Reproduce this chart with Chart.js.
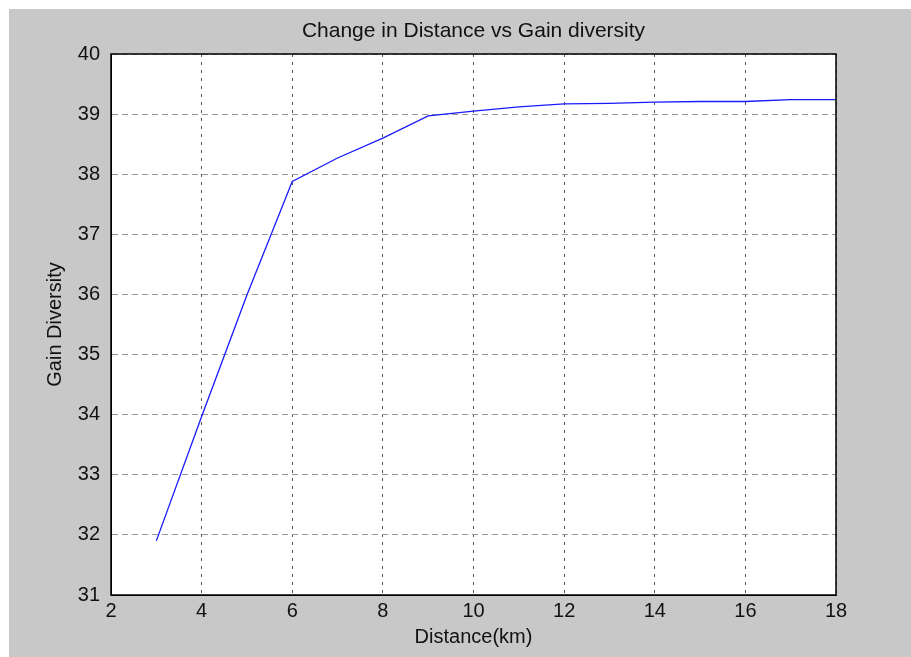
<!DOCTYPE html>
<html>
<head>
<meta charset="utf-8">
<script src="https://cdn.jsdelivr.net/npm/chart.js@4.4.1/dist/chart.umd.min.js"></script>
<style>
  html, body { margin: 0; padding: 0; background: #ffffff; }
  #wrap { position: absolute; left: 0; top: 0; width: 911px; height: 657px; }
</style>
</head>
<body>
<div id="wrap"><canvas id="c" width="911" height="657"></canvas></div>
<script>
const distanceKm = [3, 4, 5, 6, 7, 8, 9, 10, 11, 12, 13, 14, 15, 16, 17, 18];
const gainDiversity = [31.9, 33.97, 35.99, 37.88, 38.27, 38.6, 38.97, 39.05, 39.12, 39.17, 39.18, 39.2, 39.21, 39.21, 39.24, 39.24];
const chartTitle = 'Change in Distance vs Gain diversity';
const xTitle = 'Distance(km)';
const yTitle = 'Gain Diversity';
const xMin = 2, xMax = 18, xStep = 2;
const yMin = 31, yMax = 40, yStep = 1;

const points = distanceKm.map((d, i) => ({ x: d, y: gainDiversity[i] }));
const FONT = 'Liberation Sans';

const bgPlugin = {
  id: 'bgPlugin',
  beforeDraw(chart) {
    const ctx = chart.ctx;
    const a = chart.chartArea;
    ctx.save();
    ctx.fillStyle = '#ffffff';
    ctx.fillRect(0, 0, chart.width, chart.height);
    ctx.fillStyle = '#c8c8c8';
    ctx.fillRect(9, 9, chart.width - 9, chart.height - 9);
    ctx.fillStyle = '#ffffff';
    ctx.fillRect(a.left, a.top, a.right - a.left, a.bottom - a.top);
    ctx.restore();
  },
  afterDraw(chart) {
    const ctx = chart.ctx;
    const a = chart.chartArea;
    ctx.save();
    ctx.strokeStyle = '#000000';
    ctx.lineWidth = 1.5;
    ctx.strokeRect(a.left, a.top, a.right - a.left, a.bottom - a.top);
    // title centred over the plot area
    ctx.fillStyle = '#111111';
    ctx.font = '21px "' + FONT + '"';
    ctx.textAlign = 'center';
    ctx.textBaseline = 'middle';
    ctx.fillText(chartTitle, (a.left + a.right) / 2, 31);
    ctx.restore();
  }
};

new Chart(document.getElementById('c'), {
  type: 'line',
  data: {
    datasets: [{
      data: points,
      borderColor: '#1a1aff',
      borderWidth: 1.3,
      pointRadius: 0,
      tension: 0,
      fill: false
    }]
  },
  options: {
    responsive: false,
    animation: false,
    devicePixelRatio: 1,
    layout: { padding: { left: 0, right: 75, top: 54, bottom: 0 } },
    plugins: {
      legend: { display: false },
      tooltip: { enabled: false },
      title: { display: false }
    },
    scales: {
      x: {
        type: 'linear',
        min: xMin, max: xMax,
        afterFit(scale) { scale.height = 62; },
        ticks: {
          stepSize: xStep,
          color: '#111111',
          padding: 4,
          maxRotation: 0,
          font: { family: FONT, size: 20 }
        },
        grid: { color: '#555555', lineWidth: 1, drawTicks: false },
        border: { display: true, color: '#000000', dash: [3, 5] },
        title: {
          display: true,
          text: xTitle,
          color: '#111111',
          font: { family: FONT, size: 20 },
          padding: { top: 0, bottom: 8 }
        }
      },
      y: {
        type: 'linear',
        min: yMin, max: yMax,
        afterFit(scale) { scale.width = 111; },
        ticks: {
          stepSize: yStep,
          color: '#111111',
          padding: 11,
          font: { family: FONT, size: 20 }
        },
        grid: { color: '#999999', lineWidth: 1, drawTicks: false },
        border: { display: true, color: '#000000', dash: [6, 4] },
        title: {
          display: true,
          text: yTitle,
          color: '#111111',
          font: { family: FONT, size: 20 },
          padding: { top: 43, bottom: 0 }
        }
      }
    }
  },
  plugins: [bgPlugin]
});
</script>
</body>
</html>
